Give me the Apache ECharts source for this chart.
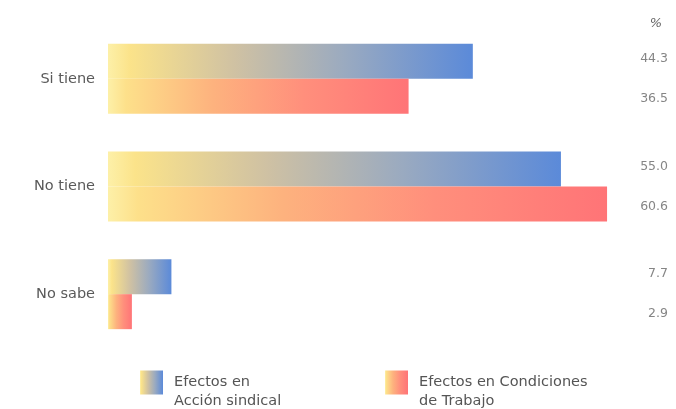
<!DOCTYPE html>
<html>
<head>
<meta charset="utf-8">
<script src="https://cdn.jsdelivr.net/npm/echarts@6/dist/echarts.min.js"></script>
<style>
  html, body { margin: 0; padding: 0; background: #ffffff; }
  #chart { width: 676px; height: 409px; }
</style>
</head>
<body>
<div id="chart"></div>
<script>
// Categories and percentages
const categories = ['Si tiene', 'No tiene', 'No sabe'];
const accionSindical = [44.3, 55.0, 7.7];
const condicionesTrabajo = [36.5, 60.6, 2.9];
const seriesNames = ['Efectos en\nAcción sindical', 'Efectos en Condiciones\nde Trabajo'];
const unitLabel = '%';

const AXIS_MAX = 68;

function grad(stops) {
  return new echarts.graphic.LinearGradient(0, 0, 1, 0,
    stops.map(([o, c]) => ({ offset: o, color: c })));
}
const blueGrad = grad([[0, '#fdf0a8'], [0.06, '#fbe38a'], [0.35, '#cfc1a3'], [0.65, '#9aaac0'], [1, '#5b8ad9']]);
const redGrad = grad([[0, '#fdf0a8'], [0.06, '#fde08a'], [0.35, '#fdb27e'], [0.65, '#ff8f7c'], [1, '#ff7477']]);

const labelStyle = { color: '#666', fontSize: 12.5, fontFamily: 'DejaVu Sans', fontWeight: 'normal' };
const legendText = { color: '#555', fontSize: 14.5, fontFamily: 'DejaVu Sans', lineHeight: 19, padding: [0, 0, 0, 6] };
// a leading empty line keeps the icon level with the first text line
const legendFormatter = name => '\n' + name;

const chart = echarts.init(document.getElementById('chart'), null, { renderer: 'canvas' });
chart.setOption({
  animation: false,
  backgroundColor: '#ffffff',
  grid: { left: 108, right: 8, top: 25, height: 323, containLabel: false },
  xAxis: {
    type: 'value', min: 0, max: AXIS_MAX, show: false
  },
  yAxis: {
    type: 'category', data: categories, inverse: true,
    axisLine: { show: false }, axisTick: { show: false },
    axisLabel: { color: '#5a5a5a', fontSize: 14.5, fontFamily: 'DejaVu Sans', margin: 13 }
  },
  legend: [
    {
      top: 354, left: 140, padding: 0, itemWidth: 23, itemHeight: 24, icon: 'rect',
      textStyle: legendText, formatter: legendFormatter, data: [seriesNames[0]]
    },
    {
      top: 354, left: 385, padding: 0, itemWidth: 23, itemHeight: 24, icon: 'rect',
      textStyle: legendText, formatter: legendFormatter, data: [seriesNames[1]]
    }
  ],
  graphic: [{
    type: 'text', right: 14, top: 17,
    style: { text: unitLabel, fill: '#666', font: 'italic 13px DejaVu Sans' }
  }],
  series: [
    {
      name: seriesNames[0], type: 'bar', data: accionSindical,
      barWidth: 35, barGap: '0%', barCategoryGap: '34%',
      itemStyle: { color: blueGrad }
    },
    {
      name: seriesNames[1], type: 'bar', data: condicionesTrabajo,
      barWidth: 35, barGap: '0%',
      itemStyle: { color: redGrad }
    },
    {
      // value column for the first series, aligned at the right edge
      type: 'scatter', symbolSize: 0, silent: true,
      data: accionSindical.map((v, i) => ({ value: [AXIS_MAX, i], raw: v })),
      label: {
        show: true, position: 'left', distance: 0, offset: [0, -20],
        formatter: p => p.data.raw.toFixed(1), ...labelStyle
      }
    },
    {
      type: 'scatter', symbolSize: 0, silent: true,
      data: condicionesTrabajo.map((v, i) => ({ value: [AXIS_MAX, i], raw: v })),
      label: {
        show: true, position: 'left', distance: 0, offset: [0, 20],
        formatter: p => p.data.raw.toFixed(1), ...labelStyle
      }
    }
  ]
});
</script>
</body>
</html>
